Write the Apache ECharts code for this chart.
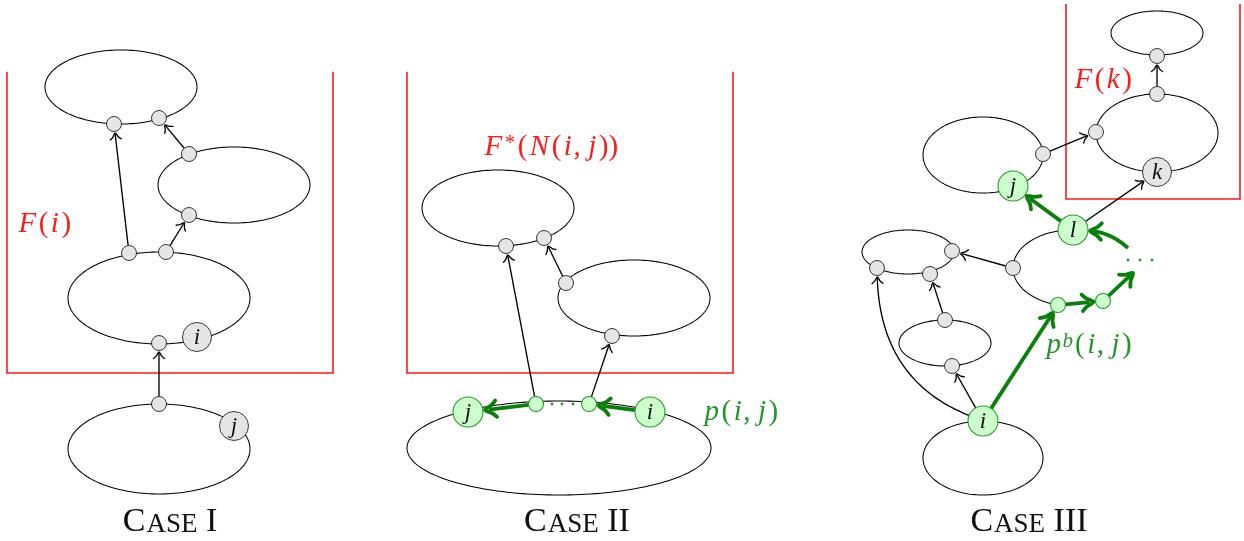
<!DOCTYPE html>
<html><head><meta charset="utf-8">
<script src="https://cdn.jsdelivr.net/npm/echarts@6/dist/echarts.min.js"></script>
<style>html,body{margin:0;padding:0;background:#fff}#c{width:1244px;height:541px}</style>
</head><body><div id="c"></div>
<script>
// ---------- data ----------
// ellipses: cx, cy, rx, ry, startDeg, endDeg
const ellipses = [
  [121, 87, 76, 37, 0, 360],
  [234, 185, 76, 38, 0, 360],
  [159, 298, 91, 46, 0, 360],
  [159, 449, 91, 45, 0, 360],
  [498, 208, 76, 38, 0, 360],
  [634, 298, 76, 38, 0, 360],
  [559, 448, 152, 47, 0, 360],
  [1157, 33, 46, 22, 0, 360],
  [1157, 133, 61, 39, 0, 360],
  [983, 155, 60, 38, 0, 360],
  [908, 252, 46, 22, 0, 360],
  [1072, 268, 59, 38, 104, 270],
  [945, 343, 46, 23, 0, 360],
  [983, 458, 60, 37, 0, 360]
];
// open-top boxes: left, top, right, bottom
const boxes = [
  [7, 72, 333, 373],
  [407, 72, 733, 373],
  [1066, 4, 1240, 199]
];
// nodes: id, x, y, kind (g gray small, G gray big, p green small, P green big), label
const nodes = [
  ['a1',114,124,'g',''], ['a2',159,118,'g',''], ['a3',189,154,'g',''], ['a4',189,215,'g',''],
  ['a5',129,253,'g',''], ['a6',166,252,'g',''], ['a7',159,343,'g',''], ['ai',197,337,'G','i'],
  ['a8',159,404,'g',''], ['aj',234,426,'G','j'],
  ['b1',506,246,'g',''], ['b2',544,238,'g',''], ['b3',566,283,'g',''], ['b4',612,336,'g',''],
  ['bj',468,412,'P','j'], ['b5',536,404,'p',''], ['b6',589,404,'p',''], ['bi',650,412,'P','i'],
  ['c1',1157,56,'g',''], ['c2',1157,94,'g',''], ['c3',1096,132,'g',''], ['ck',1157,172,'G','k'],
  ['c4',1043,154,'g',''], ['cj',1013,186,'P','j'], ['cl',1073,230,'P','l'], ['c5',1013,268,'g',''],
  ['c6',877,268,'g',''], ['c7',952,251,'g',''], ['c8',930,274,'g',''], ['c9',945,320,'g',''],
  ['c10',952,366,'g',''], ['c11',1058,305,'p',''], ['c12',1103,301,'p',''], ['ci',983,421,'P','i']
];
// straight arrows: from, to, kind (k black, g green)
const links = [
  ['a5','a1','k'], ['a3','a2','k'], ['a6','a4','k'], ['a8','a7','k'],
  ['b5','b1','k'], ['b6','b4','k'], ['b3','b2','k'],
  ['bi','b6','g'], ['b5','bj','g'],
  ['c2','c1','k'], ['c4','c3','k'], ['cl','ck','k'], ['c5','c7','k'], ['c9','c8','k'], ['ci','c10','k'],
  ['cl','cj','g'], ['ci','c11','g'], ['c11','c12','g'], ['c12',[1133,273],'g']
];
// curved arrows: from, control, to, kind
const curvedLinks = [
  ['ci',[880,380],'c6','k'],
  [[1128,248],[1110,232],'cl','g']
];
const dots = [[552,404],[562,404],[573,404],[1128,260],[1140,260],[1152,260]];
// math labels: rich text, left x, middle y, colour key
const mathLabels = [
  ['{it|F}{rm|(}{it|i}{rm|)}', 17, 224, 'red'],
  ['{it|F}{sup|*}{rm|(}{it|N}{rm|(}{it|i}{cm|,}{it|j}{rm|))}', 483, 147, 'red'],
  ['{it|F}{rm|(}{it|k}{rm|)}', 1073, 80, 'red'],
  ['{it|p}{rm|(}{it|i}{cm|,}{it|j}{rm|)}', 703, 412, 'green'],
  ['{it|p}{supi|b}{rm|(}{it|i}{cm|,}{it|j}{rm|)}', 1045, 345, 'green']
];
const caseLabels = [['I', 170], ['II', 577], ['III', 1029]];
const caseY = 522;

// ---------- styles ----------
const R = {g: 7.5, G: 14.5, p: 7.5, P: 15};
const COL = {red: '#ff1a1a', green: '#22962a'};
const FONT = '"Liberation Serif", "DejaVu Serif", serif';
const nodeMap = {};
nodes.forEach(n => nodeMap[n[0]] = n);

function ref(r) {
  if (typeof r === 'string') { const n = nodeMap[r]; return {x: n[1], y: n[2], r: R[n[3]]}; }
  return {x: r[0], y: r[1], r: 0};
}
function head(tip, ux, uy, kind) {
  const len = kind === 'g' ? 14 : 8.5, a = (kind === 'g' ? 36 : 40) * Math.PI / 180;
  const c = Math.cos(a), s = Math.sin(a);
  const r1 = [ux * c - uy * s, ux * s + uy * c], r2 = [ux * c + uy * s, -ux * s + uy * c];
  const b1 = [tip[0] - len * r1[0], tip[1] - len * r1[1]], b2 = [tip[0] - len * r2[0], tip[1] - len * r2[1]];
  const k = 0.1;
  const m1 = [(b1[0] + tip[0]) / 2 - ux * len * k, (b1[1] + tip[1]) / 2 - uy * len * k];
  const m2 = [(b2[0] + tip[0]) / 2 - ux * len * k, (b2[1] + tip[1]) / 2 - uy * len * k];
  return [b1, m1, tip, m2, b2];
}
function arrowEls(pts, kind) {
  const n = pts.length, tip = pts[n - 1], prev = pts[n - 2];
  let dx = tip[0] - prev[0], dy = tip[1] - prev[1];
  const L = Math.hypot(dx, dy); dx /= L; dy /= L;
  const back = kind === 'g' ? 4 : 1;
  const shaft = pts.slice(0, n - 1).concat([[tip[0] - dx * back, tip[1] - dy * back]]);
  const color = kind === 'g' ? '#0a800a' : '#000';
  const lw = kind === 'g' ? 3.8 : 1.35;
  return {type: 'group', children: [
    {type: 'polyline', shape: {points: shaft}, style: {stroke: color, lineWidth: lw, fill: null, lineCap: 'butt'}},
    {type: 'polyline', shape: {points: head(tip, dx, dy, kind), smooth: 0.3}, style: {stroke: color, lineWidth: lw, fill: null, lineJoin: 'miter', lineCap: 'round'}}
  ]};
}

const base = {type: 'custom', coordinateSystem: 'cartesian2d', silent: true, clip: false, animation: false};

const option = {
  backgroundColor: '#fff',
  animation: false,
  grid: {left: 0, right: 0, top: 0, bottom: 0},
  xAxis: {type: 'value', min: 0, max: 1244, show: false},
  yAxis: {type: 'value', min: 0, max: 541, inverse: true, show: false},
  series: [
    Object.assign({}, base, {
      data: ellipses.map(e => [e[0], e[1]]),
      renderItem(params, api) {
        const [cx, cy, rx, ry, a0, a1] = ellipses[params.dataIndex];
        const pts = [], n = 180;
        for (let k = 0; k <= n; k++) {
          const t = (a0 + (a1 - a0) * k / n) * Math.PI / 180;
          pts.push(api.coord([cx + rx * Math.cos(t), cy + ry * Math.sin(t)]));
        }
        return {type: 'polyline', shape: {points: pts}, style: {stroke: '#000', lineWidth: 1.05, fill: null}};
      }
    }),
    Object.assign({}, base, {
      data: boxes.map(b => [b[0], b[1]]),
      renderItem(params, api) {
        const [l, t, r, b] = boxes[params.dataIndex];
        return {type: 'polyline', shape: {points: [api.coord([l, t]), api.coord([l, b]), api.coord([r, b]), api.coord([r, t])]},
          style: {stroke: '#ff1a1a', lineWidth: 1.6, fill: null}};
      }
    }),
    Object.assign({}, base, {
      data: links.map((l, i) => [i, 0]),
      renderItem(params, api) {
        const [f, t, kind] = links[params.dataIndex];
        const s = ref(f), e = ref(t);
        let dx = e.x - s.x, dy = e.y - s.y; const L = Math.hypot(dx, dy); dx /= L; dy /= L;
        const gap = e.r ? (kind === 'g' ? 2 : 1.5) : 0;
        const p0 = api.coord([s.x + dx * s.r, s.y + dy * s.r]);
        const p1 = api.coord([e.x - dx * (e.r + gap), e.y - dy * (e.r + gap)]);
        return arrowEls([p0, p1], kind);
      }
    }),
    Object.assign({}, base, {
      data: curvedLinks.map((l, i) => [i, 0]),
      renderItem(params, api) {
        const [f, c, t, kind] = curvedLinks[params.dataIndex];
        const s = ref(f), e = ref(t);
        let ax = c[0] - s.x, ay = c[1] - s.y; let L = Math.hypot(ax, ay); ax /= L; ay /= L;
        let bx = e.x - c[0], by = e.y - c[1]; L = Math.hypot(bx, by); bx /= L; by /= L;
        const gap = e.r ? (kind === 'g' ? 2 : 1.5) : 0;
        const P0 = [s.x + ax * s.r, s.y + ay * s.r], P2 = [e.x - bx * (e.r + gap), e.y - by * (e.r + gap)];
        const pts = [];
        for (let k = 0; k <= 60; k++) {
          const u = k / 60, w0 = (1 - u) * (1 - u), w1 = 2 * u * (1 - u), w2 = u * u;
          pts.push(api.coord([w0 * P0[0] + w1 * c[0] + w2 * P2[0], w0 * P0[1] + w1 * c[1] + w2 * P2[1]]));
        }
        return arrowEls(pts, kind);
      }
    }),
    Object.assign({}, base, {
      data: dots,
      renderItem(params, api) {
        const p = api.coord([api.value(0), api.value(1)]);
        return {type: 'circle', shape: {cx: p[0], cy: p[1], r: 1.4}, style: {fill: '#22962a'}};
      }
    }),
    Object.assign({}, base, {
      data: nodes.map(n => [n[1], n[2]]),
      renderItem(params, api) {
        const n = nodes[params.dataIndex];
        const p = api.coord([api.value(0), api.value(1)]);
        const r = api.size([R[n[3]], 0])[0];
        const green = n[3] === 'p' || n[3] === 'P';
        const ch = [{type: 'circle', shape: {cx: p[0], cy: p[1], r: r},
          style: {fill: green ? '#ccffcc' : '#e5e5e5', stroke: green ? '#2a9a2a' : '#222', lineWidth: green ? 1.1 : 0.9}}];
        if (n[4]) ch.push({type: 'text', x: p[0], y: p[1] + 1, style: {text: n[4], fill: '#111',
          font: 'italic 23px ' + FONT, align: 'center', verticalAlign: 'middle'}});
        return {type: 'group', children: ch};
      }
    }),
    Object.assign({}, base, {
      data: mathLabels.map(m => [m[1], m[2]]),
      renderItem(params, api) {
        const m = mathLabels[params.dataIndex];
        const p = api.coord([api.value(0), api.value(1)]);
        const col = COL[m[3]];
        const rich = {
          it: {fontFamily: FONT, fontStyle: 'italic', fontSize: 29, fill: col, padding: [0, 1.5, 0, 1.5], verticalAlign: 'bottom'},
          rm: {fontFamily: FONT, fontSize: 29, fill: col, padding: [0, 1, 0, 1], verticalAlign: 'bottom'},
          cm: {fontFamily: FONT, fontSize: 29, fill: col, padding: [0, 6, 0, 0], verticalAlign: 'bottom'},
          sup: {fontFamily: FONT, fontSize: 21, fill: col, padding: [0, 1.5, 0, 1], verticalAlign: 'top'},
          supi: {fontFamily: FONT, fontStyle: 'italic', fontSize: 21, fill: col, padding: [0, 1, 0, 0], verticalAlign: 'top'}
        };
        return {type: 'text', x: p[0], y: p[1], style: {text: m[0], rich: rich, fill: col,
          font: '29px ' + FONT, align: 'left', verticalAlign: 'middle'}};
      }
    }),
    Object.assign({}, base, {
      data: caseLabels.map(c => [c[1], caseY]),
      renderItem(params, api) {
        const c = caseLabels[params.dataIndex];
        const p = api.coord([api.value(0), api.value(1)]);
        const rich = {
          C: {fontFamily: FONT, fontSize: 34, fill: '#111', verticalAlign: 'bottom'},
          s: {fontFamily: FONT, fontSize: 27, fill: '#111', verticalAlign: 'bottom', padding: [0, 0, 1, 1]}
        };
        return {type: 'text', x: p[0], y: p[1], style: {text: '{C|C}{s|ASE}{C| ' + c[0] + '}', rich: rich,
          font: '34px ' + FONT, fill: '#111', align: 'center', verticalAlign: 'middle'}};
      }
    })
  ]
};
const chart = echarts.init(document.getElementById('c'), null, {renderer: 'canvas'});
chart.setOption(option);
</script>
</body></html>
